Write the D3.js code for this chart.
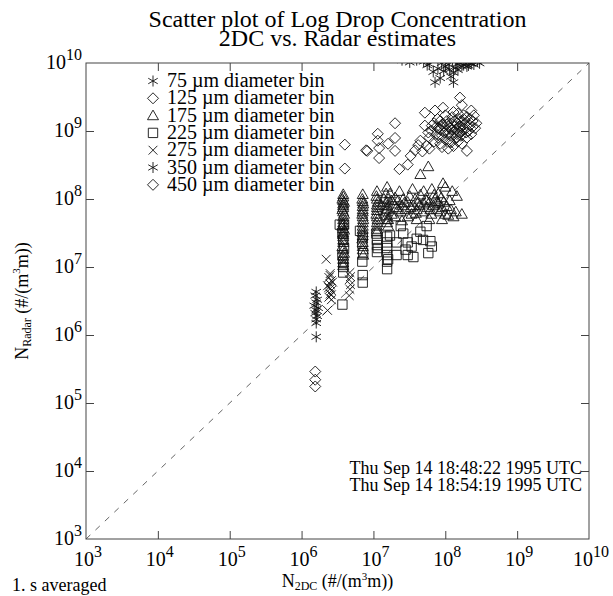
<!DOCTYPE html>
<html>
<head>
<meta charset="utf-8">
<script src="https://cdn.jsdelivr.net/npm/d3@7"></script>
<style>
  body { margin: 0; background: #fff; }
  svg { display: block; font-family: "Liberation Serif", "Times New Roman", serif; }
</style>
</head>
<body>
<svg id="chart" width="613" height="596"></svg>
<script>
// decades shown on both log axes
const decades = [1e3, 1e4, 1e5, 1e6, 1e7, 1e8, 1e9, 1e10];

const binLabels = ['75 \u00b5m diameter bin', '125 \u00b5m diameter bin', '175 \u00b5m diameter bin',
  '225 \u00b5m diameter bin', '275 \u00b5m diameter bin', '350 \u00b5m diameter bin', '450 \u00b5m diameter bin'];
const binShapes = ['asterisk', 'diamond', 'triangle', 'square', 'cross', 'asterisk', 'diamond'];

// [N_2DC, N_Radar] pairs
const bin75 = [[6.8e7,7.4e9],[7.2e7,5.2e9],[1.3e8,7.2e9],[1.3e8,5.2e9],[2.0e8,8.9e9],[1.0e8,8.9e9],[8.9e7,1.0e10],
  [1.1e8,9.5e9],[1.6e8,1.0e10],[1.8e8,9.3e9],[2.2e8,1.0e10],[2.5e8,9.5e9],[5.0e7,1.05e10],[4.0e7,1.1e10],[1.4e8,8.5e9],
  [7.9e7,8.3e9],[2.8e8,1.05e10],[1.26e8,1.1e10],[9.5e7,7.6e9],[1.5e8,7.9e9],[1.9e8,1.1e10],[2.5e7,1.1e10],[1.1e8,1.2e10],
  [5.6e7,9.3e9],[2.3e8,9.8e9],[3.0e8,9.9e9],[1.2e8,6.3e9],[8.5e7,6.0e9],[1.7e8,9.0e9],[6.0e7,9.6e9],[3.2e7,1.02e10],
  [1.45e8,9.7e9],[2.1e8,9.2e9],[1.15e8,8.0e9]];
const bin125 = [[4.0e6,6.3e8],[4.0e6,2.8e8],[7.9e6,5.2e8],[8.2e6,5.1e8],[1.15e7,9.1e8],[1.15e7,7.2e8],[1.2e7,5.6e8],
  [1.2e7,4.0e8],[1.6e7,6.5e8],[2.0e7,1.3e9],[2.0e7,7.9e8],[2.0e7,5.1e8],[5.2e7,1.86e9],[7.2e7,2.0e9],[9.3e7,2.2e9],
  [1.6e8,3.1e9],[1.7e8,2.4e9],[2.3e8,2.0e9],[2.0e8,5.1e8],[2.3e7,2.75e8],[3.0e7,3.2e8],[3.3e7,4.3e8],[3.8e7,5.2e8],
  [4.5e7,7.2e8],[5.2e7,1.2e9],[8.5e7,1.4e9],[5.5e7,6.0e8],[6.0e7,8.0e8],[6.5e7,1.0e9],[7.0e7,7.0e8],[7.5e7,9.0e8],
  [8.0e7,1.1e9],[8.5e7,6.5e8],[9.0e7,8.5e8],[9.5e7,1.2e9],[1.0e8,1.0e9],[1.0e8,7.5e8],[1.05e8,1.4e9],[1.1e8,9.0e8],
  [1.15e8,1.1e9],[1.2e8,1.3e9],[1.2e8,6.8e8],[1.25e8,1.6e9],[1.3e8,9.5e8],[1.35e8,1.15e9],[1.4e8,8.0e8],[1.45e8,1.3e9],
  [1.5e8,1.0e9],[1.55e8,1.5e9],[1.6e8,1.2e9],[1.65e8,8.5e8],[1.7e8,1.4e9],[1.8e8,1.1e9],[1.9e8,1.3e9],[2.0e8,1.6e9],
  [2.1e8,1.0e9],[2.2e8,1.2e9],[2.4e8,1.4e9],[2.6e8,1.1e9],[7.0e7,1.3e9],[6.0e7,5.5e8],[4.8e7,5.0e8],[4.2e7,6.2e8],
  [9.0e7,5.8e8],[1.1e8,5.5e8],[1.3e8,6.0e8],[1.5e8,7.0e8],[1.7e8,6.5e8],[2.0e8,8.0e8],[2.3e8,9.0e8],[7.8e7,1.5e9],
  [1.0e8,1.7e9],[1.3e8,1.9e9],[1.5e8,1.8e9],[1.8e8,1.7e9],[9.0e7,1.25e9],[1.1e8,1.15e9],[1.4e8,1.05e9],[1.7e8,1.0e9],
  [8.0e7,8.0e8],[1.2e8,8.5e8],[1.6e8,9.5e8],[2.7e8,1.3e9],[2.5e8,1.7e9],[6.5e7,1.2e9],[5.8e7,9.5e8],[9.8e7,9.5e8],
  [1.05e8,1.25e9],[1.25e8,1.05e9],[1.35e8,1.4e9],[1.45e8,9.0e8],[1.55e8,1.15e9],[1.75e8,1.2e9],[1.85e8,1.45e9],
  [8.5e7,1.05e9],[7.5e7,1.15e9],[1.15e8,7.0e8],[2.2e8,1.5e9],[2.4e8,1.15e9],[1.95e8,9.5e8]];
const bin175 = [[3.8e6,1.17e8],[3.7e6,1.0e8],[3.9e6,9.0e7],[3.8e6,8.0e7],[3.7e6,7.0e7],[3.9e6,6.0e7],[3.8e6,5.0e7],
  [3.8e6,4.5e7],[3.7e6,4.0e7],[3.9e6,3.5e7],[3.8e6,3.0e7],[3.8e6,2.5e7],[3.7e6,2.0e7],[3.9e6,1.6e7],[3.8e6,1.3e7],
  [3.8e6,1.08e8],[3.8e6,9.5e7],[3.8e6,8.5e7],[3.8e6,7.5e7],[3.8e6,6.5e7],[3.8e6,5.5e7],[3.8e6,4.2e7],[3.8e6,3.7e7],
  [3.8e6,3.2e7],[3.8e6,2.8e7],[3.8e6,2.3e7],[3.8e6,1.8e7],[3.8e6,1.45e7],[3.8e6,1.15e7],[3.8e6,1.05e7],
  [7.1e6,1.17e8],[7.0e6,1.0e8],[7.2e6,8.5e7],[7.1e6,7.0e7],[7.0e6,6.0e7],[7.2e6,5.0e7],[7.1e6,4.0e7],[7.1e6,3.2e7],
  [7.0e6,2.6e7],[7.1e6,2.0e7],[7.2e6,1.5e7],[7.1e6,9.2e7],[7.1e6,7.8e7],[7.1e6,6.5e7],[7.1e6,5.5e7],[7.1e6,4.5e7],
  [7.1e6,3.6e7],[7.1e6,2.9e7],[7.1e6,2.3e7],[7.1e6,1.8e7],
  [1.12e7,1.3e8],[1.1e7,1.1e8],[1.15e7,9.0e7],[1.12e7,7.5e7],[1.1e7,6.0e7],[1.14e7,5.0e7],[1.12e7,4.0e7],[1.12e7,3.3e7],
  [1.12e7,1.0e8],[1.12e7,8.2e7],[1.12e7,6.8e7],[1.12e7,5.5e7],[1.12e7,4.5e7],[1.12e7,3.6e7],
  [1.55e7,1.5e8],[1.5e7,1.2e8],[1.6e7,1.0e8],[1.55e7,8.0e7],[1.5e7,6.5e7],[1.55e7,5.0e7],[1.6e7,4.0e7],[1.55e7,9.0e7],
  [1.55e7,7.2e7],[1.55e7,5.7e7],[1.55e7,4.5e7],
  [1.3e7,8.0e7],[1.4e7,1.0e8],[1.5e7,7.0e7],[1.7e7,1.2e8],[1.8e7,6.0e7],[1.9e7,8.5e7],
  [2.0e7,1.05e8],[2.1e7,7.5e7],[2.2e7,9.5e7],[2.3e7,1.3e8],[2.4e7,6.5e7],[2.5e7,8.0e7],[2.6e7,1.0e8],[2.8e7,7.0e7],
  [3.0e7,9.0e7],[3.2e7,1.1e8],[3.4e7,6.0e7],[3.6e7,8.0e7],[3.8e7,1.0e8],[4.0e7,7.0e7],[4.2e7,9.0e7],[4.5e7,1.15e8],
  [4.8e7,6.5e7],[5.0e7,8.5e7],[5.3e7,1.0e8],[5.6e7,7.5e7],[6.0e7,9.0e7],[6.4e7,6.0e7],[6.8e7,8.0e7],[7.2e7,1.0e8],
  [7.6e7,7.0e7],[8.0e7,8.5e7],[8.5e7,6.5e7],[9.0e7,7.5e7],[9.5e7,9.0e7],[1.0e8,6.0e7],[1.05e8,7.8e7],[1.1e8,5.8e7],
  [1.2e8,7.0e7],[1.3e8,5.5e7],[1.4e8,6.5e7],[5.8e7,3.0e8],[4.5e7,2.3e8],[9.3e7,1.7e8],[1.45e8,1.1e8],[1.25e8,1.3e8],
  [6.5e7,1.4e8],[8.0e7,1.2e8],[3.5e7,1.4e8],[4.0e7,5.0e7],[3.0e7,5.5e7],[2.5e7,4.8e7],[6.0e7,5.0e7],[9.0e7,5.0e7],
  [1.7e8,6.0e7],[1.15e8,9.5e7],[7.0e7,1.15e8],[5.0e7,1.3e8],[1.0e8,1.5e8],[2.0e7,5.5e7],[1.6e7,5.0e7],
  [2.7e7,8.8e7],[3.3e7,7.5e7],[4.4e7,8.0e7],[5.5e7,9.5e7],[6.2e7,7.0e7],[7.8e7,9.2e7],[8.8e7,1.05e8],[2.2e7,7.0e7],
  [1.8e7,9.5e7],[3.9e7,6.2e7]];
const bin225 = [[3.8e6,1.2e7],[3.8e6,1.0e7],[3.8e6,8.3e6],[3.7e6,1.5e7],[3.9e6,1.9e7],[3.8e6,2.5e7],[3.7e6,3.1e7],
  [3.9e6,4.2e7],[3.4e6,4.2e7],[3.7e6,2.8e6],[7.1e6,7.6e6],[7.1e6,5.9e6],[7.0e6,1.2e7],[7.2e6,1.6e7],[7.0e6,2.2e7],
  [6.5e6,3.4e7],[7.1e6,2.8e7],[1.12e7,2.5e7],[1.12e7,2.1e7],[1.12e7,1.66e7],[1.1e7,3.1e7],[1.15e7,1.9e7],[1.55e7,2.8e7],
  [1.55e7,2.3e7],[1.55e7,1.9e7],[1.55e7,1.5e7],[1.55e7,1.2e7],[1.55e7,9.3e6],[1.6e7,1.3e7],[1.7e7,2.9e7],[2.1e7,2.3e7],
  [2.1e7,1.5e7],[2.6e7,3.1e7],[3.0e7,2.3e7],[3.0e7,1.5e7],[3.4e7,2.0e7],[4.0e7,2.6e7],[4.9e7,2.5e7],[4.5e7,3.3e7],
  [6.2e7,2.4e7],[5.5e7,4.0e7],[2.4e7,4.0e7],[2.8e7,1.8e7],[3.6e7,1.4e7],[5.8e7,1.6e7],[6.5e7,2.0e7]];
const bin275 = [[2.2e6,1.3e7],[2.5e6,8.0e6],[2.4e6,7.0e6],[2.6e6,6.3e6],[2.5e6,5.6e6],[2.4e6,5.0e6],[2.6e6,4.5e6],
  [2.5e6,4.0e6],[2.4e6,3.6e6],[2.6e6,3.3e6],[2.5e6,7.5e6],[2.7e6,6.0e6],[2.3e6,5.3e6],[2.5e6,4.8e6],[2.6e6,3.9e6],
  [2.3e6,2.3e6],[4.7e6,8.3e6],[4.6e6,6.5e6],[4.8e6,5.5e6],[4.7e6,4.7e6],[4.6e6,3.8e6],[4.8e6,7.2e6]];
const bin350 = [[1.6e6,4.3e6],[1.55e6,3.8e6],[1.65e6,3.3e6],[1.6e6,3.0e6],[1.5e6,2.7e6],[1.7e6,2.5e6],[1.6e6,2.3e6],
  [1.55e6,2.1e6],[1.65e6,1.9e6],[1.6e6,1.7e6],[1.6e6,1.5e6],[1.6e6,9.4e5]];
const bin450 = [[1.55e6,2.9e5],[1.55e6,2.2e5],[1.55e6,1.75e5]];

const binData = [bin75, bin125, bin175, bin225, bin275, bin350, bin450];
const timeStamps = ['Thu Sep 14 18:48:22 1995 UTC', 'Thu Sep 14 18:54:19 1995 UTC'];

const svg = d3.select('#chart');
const margin = { top: 63, right: 24, bottom: 57, left: 86 };
const width = 613 - margin.left - margin.right;
const height = 596 - margin.top - margin.bottom;

const x = d3.scaleLog().domain([1e3, 1e10]).range([0, width]);
const y = d3.scaleLog().domain([1e3, 1e10]).range([height, 0]);

// marker shapes, drawn like the old plotting package ones (outlines only)
const shapes = {
  asterisk: { draw(ctx, s) { const r = Math.sqrt(s) / 2;
    for (const a of [90, 30, -30]) { const t = a * Math.PI / 180;
      ctx.moveTo(-r * Math.cos(t), -r * Math.sin(t)); ctx.lineTo(r * Math.cos(t), r * Math.sin(t)); } } },
  diamond: { draw(ctx, s) { const r = Math.sqrt(s) / 2;
    ctx.moveTo(0, -r); ctx.lineTo(r, 0); ctx.lineTo(0, r); ctx.lineTo(-r, 0); ctx.closePath(); } },
  triangle: { draw(ctx, s) { const r = Math.sqrt(s) / 2;
    ctx.moveTo(0, -r); ctx.lineTo(r, r * 0.75); ctx.lineTo(-r, r * 0.75); ctx.closePath(); } },
  square: { draw(ctx, s) { const r = Math.sqrt(s) / 2 * 0.85;
    ctx.rect(-r, -r, 2 * r, 2 * r); } },
  cross: { draw(ctx, s) { const r = Math.sqrt(s) / 2 * 0.8;
    ctx.moveTo(-r, -r); ctx.lineTo(r, r); ctx.moveTo(r, -r); ctx.lineTo(-r, r); } }
};
const symbol = (shape) => d3.symbol().type(shapes[shape]).size(121)();

// title
svg.append('g')
  .attr('text-anchor', 'middle')
  .attr('font-size', 24)
  .selectAll('text')
  .data(['Scatter plot of Log Drop Concentration', '2DC vs. Radar estimates'])
  .enter()
  .append('text')
  .attr('x', margin.left + width / 2)
  .attr('y', (_, i) => 27 + i * 19)
  .text((d) => d);

const chart = svg.append('g').attr('transform', `translate(${margin.left},${margin.top})`);

chart.append('clipPath').attr('id', 'plot-clip')
  .append('rect').attr('width', width).attr('height', height);

// 1:1 line
chart.append('line')
  .attr('x1', x(1e3)).attr('y1', y(1e3))
  .attr('x2', x(1e10)).attr('y2', y(1e10))
  .attr('stroke', '#666').attr('stroke-dasharray', '6,7');

// axes with inward ticks on all four sides
const noLabel = () => '';
const axes = [
  [d3.axisBottom(x), `translate(0,${height})`],
  [d3.axisTop(x), 'translate(0,0)'],
  [d3.axisLeft(y), 'translate(0,0)'],
  [d3.axisRight(y), `translate(${width},0)`]
];
axes.forEach(([axis, tr]) => {
  chart.append('g')
    .attr('transform', tr)
    .call(axis.tickValues(decades.slice(1, -1)).tickSize(-8).tickFormat(noLabel))
    .call((g) => g.select('.domain').remove())
    .selectAll('line').attr('stroke', '#444');
});

chart.append('rect')
  .attr('width', width).attr('height', height)
  .attr('fill', 'none').attr('stroke', '#444');

// decade labels as 10 with a superscript
const powerLabel = (sel) => {
  sel.append('tspan').text('10');
  sel.append('tspan').attr('dy', -9).attr('font-size', 16).text((d) => Math.round(Math.log10(d)));
};
chart.append('g')
  .attr('font-size', 20).attr('text-anchor', 'middle')
  .selectAll('text').data(decades).enter().append('text')
  .attr('x', (d) => x(d) + 2).attr('y', height + 27)
  .call(powerLabel);
chart.append('g')
  .attr('font-size', 20).attr('text-anchor', 'end')
  .selectAll('text').data(decades).enter().append('text')
  .attr('x', -4).attr('y', (d) => y(d) + 6)
  .call(powerLabel);

// points
const plot = chart.append('g').attr('clip-path', 'url(#plot-clip)')
  .attr('fill', 'none').attr('stroke', '#111').attr('stroke-width', 0.9);
binData.forEach((pts, i) => {
  plot.append('g')
    .selectAll('path')
    .data(pts)
    .enter()
    .append('path')
    .attr('transform', (d) => `translate(${x(d[0])},${y(d[1])})`)
    .attr('d', symbol(binShapes[i]));
});

// legend
const legend = chart.append('g').attr('transform', 'translate(81,24)');
binLabels.forEach((label, i) => {
  const row = legend.append('g').attr('transform', `translate(0,${i * 17.3})`);
  row.append('path').attr('transform', 'translate(-14,-6)')
    .attr('d', symbol(binShapes[i]))
    .attr('fill', 'none').attr('stroke', '#111').attr('stroke-width', 0.9);
  row.append('text').attr('font-size', 20).text(label);
});

// time range of the flight leg
chart.append('g')
  .attr('font-size', 18).attr('text-anchor', 'end')
  .selectAll('text').data(timeStamps).enter().append('text')
  .attr('x', width - 7).attr('y', (_, i) => 411 + i * 17)
  .text((d) => d);

// axis titles
const xTitle = svg.append('text')
  .attr('x', margin.left + width / 2).attr('y', 587)
  .attr('text-anchor', 'middle').attr('font-size', 18);
xTitle.append('tspan').text('N');
xTitle.append('tspan').attr('font-size', 12).attr('dy', 3).text('2DC');
xTitle.append('tspan').attr('dy', -3).text(' (#/(m');
xTitle.append('tspan').attr('font-size', 11).attr('dy', -7).text('3');
xTitle.append('tspan').attr('dy', 7).text('m))');

const yTitle = svg.append('text')
  .attr('transform', `translate(28,${margin.top + height / 2}) rotate(-90)`)
  .attr('text-anchor', 'middle').attr('font-size', 18);
yTitle.append('tspan').text('N');
yTitle.append('tspan').attr('font-size', 12).attr('dy', 3).text('Radar');
yTitle.append('tspan').attr('dy', -3).text(' (#/(m');
yTitle.append('tspan').attr('font-size', 11).attr('dy', -8).text('3');
yTitle.append('tspan').attr('dy', 8).text('m))');

svg.append('text')
  .attr('x', 12).attr('y', 591)
  .attr('font-size', 18)
  .text('1. s averaged');
</script>
</body>
</html>
